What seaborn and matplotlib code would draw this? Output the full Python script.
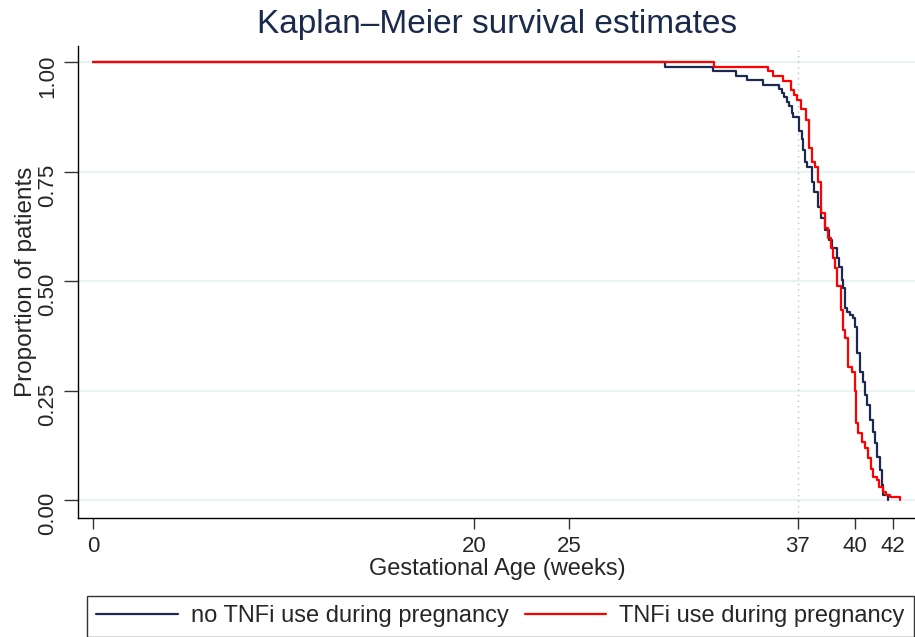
import pandas as pd
import matplotlib.pyplot as plt
import seaborn as sns

# Kaplan-Meier step points (weeks, survival)
no_tnfi_time = [0, 30.03, 32.55, 33.75, 34.33, 35.17, 36.01, 36.15, 36.27, 36.41, 36.54,
                36.68, 36.75, 37.06, 37.20, 37.27, 37.38, 37.48, 37.73, 37.85, 38.06,
                38.22, 38.43, 38.64, 38.78, 39.04, 39.16, 39.30, 39.37, 39.48, 39.58,
                39.74, 39.88, 40.00, 40.10, 40.26, 40.40, 40.52, 40.63, 40.79, 40.93,
                41.05, 41.15, 41.31, 41.40, 41.47, 41.73]
no_tnfi_surv = [1.0, 0.989, 0.980, 0.969, 0.959, 0.947, 0.938, 0.930, 0.921, 0.909, 0.900,
                0.884, 0.874, 0.843, 0.824, 0.799, 0.772, 0.761, 0.727, 0.704, 0.670,
                0.644, 0.616, 0.594, 0.575, 0.553, 0.532, 0.502, 0.484, 0.438, 0.429,
                0.422, 0.416, 0.395, 0.336, 0.292, 0.269, 0.240, 0.217, 0.183, 0.155,
                0.130, 0.098, 0.068, 0.034, 0.011, 0.0]

tnfi_time = [0, 32.60, 35.45, 35.72, 36.20, 36.62, 36.80, 36.98, 37.15, 37.42, 37.60,
             37.72, 37.88, 38.08, 38.22, 38.40, 38.60, 38.72, 38.84, 38.94, 39.08,
             39.26, 39.38, 39.50, 39.65, 39.84, 39.98, 40.05, 40.17, 40.35, 40.52,
             40.70, 40.82, 40.96, 41.14, 41.28, 41.49, 41.63, 41.84, 42.36]
tnfi_surv = [1.0, 0.989, 0.979, 0.968, 0.957, 0.936, 0.925, 0.913, 0.893, 0.869, 0.805,
             0.772, 0.761, 0.727, 0.656, 0.621, 0.598, 0.575, 0.553, 0.530, 0.488,
             0.434, 0.388, 0.370, 0.304, 0.292, 0.249, 0.175, 0.152, 0.133, 0.118,
             0.095, 0.072, 0.053, 0.046, 0.030, 0.019, 0.011, 0.008, 0.0]

groups = ['no TNFi use during pregnancy', 'TNFi use during pregnancy']
colors = ['#1c2951', '#ff0000']
x_ticks = [0, 20, 25, 37, 40, 42]
y_ticks = [0, 0.25, 0.5, 0.75, 1.0]
y_tick_labels = ['0.00', '0.25', '0.50', '0.75', '1.00']

df = pd.concat([
    pd.DataFrame({'time': no_tnfi_time, 'surv': no_tnfi_surv, 'group': groups[0]}),
    pd.DataFrame({'time': tnfi_time, 'surv': tnfi_surv, 'group': groups[1]}),
])

sns.set_style('white')
plt.rcParams['font.family'] = ['Liberation Sans', 'DejaVu Sans']

fig = plt.figure(figsize=(9.15, 6.37), dpi=100)
ax = fig.add_axes([78 / 915, 1 - 518 / 637, 1 - 78 / 915, (518 - 46) / 637])

# light horizontal grid and dotted reference line at 37 weeks
for y in y_ticks:
    ax.axhline(y, color='#eaf2f3', lw=1.6, zorder=0)
ax.axvline(37, color='#b8c4c4', lw=1.0, ls=(0, (1, 3)), zorder=0)

sns.lineplot(data=df, x='time', y='surv', hue='group', palette=colors,
             drawstyle='steps-post', estimator=None, lw=1.6, ax=ax, legend=False)

ax.set_xlim(-0.79, 43.15)
ax.set_ylim(-0.041, 1.037)
ax.set_xticks(x_ticks)
ax.set_yticks(y_ticks)
ax.set_yticklabels(y_tick_labels)
ax.tick_params(axis='both', direction='out', length=8, width=1, color='#333333',
               labelsize=16, pad=5, left=True, bottom=True)
ax.tick_params(axis='y', labelrotation=90, length=10, pad=4)
ax.set_xlabel('')
ax.set_ylabel('')
for s in ['top', 'right']:
    ax.spines[s].set_visible(False)
for s in ['left', 'bottom']:
    ax.spines[s].set_color('black')
    ax.spines[s].set_linewidth(1)

fig.text(497 / 915, 1 - 25 / 637, 'Kaplan\u2013Meier survival estimates',
         ha='center', va='center', fontsize=24, color='#1a2a4a')
fig.text(497 / 915, 1 - 569 / 637, 'Gestational Age (weeks)',
         ha='center', va='center', fontsize=17)
fig.text(26 / 915, 1 - 282 / 637, 'Proportion of patients',
         ha='center', va='center', rotation=90, fontsize=17.5)

handles = [plt.Line2D([], [], color=c, lw=1.6) for c in colors]
leg = fig.legend(handles, groups, loc='upper left', bbox_to_anchor=(87 / 915, 1 - 596 / 637),
                 ncol=2, frameon=True, fancybox=False, fontsize=17, handlelength=3.45,
                 handletextpad=0.55, columnspacing=0.68, borderpad=0.4, borderaxespad=0)
leg.get_frame().set_edgecolor('black')
leg.get_frame().set_linewidth(1)

plt.savefig('out.png', dpi=100)
